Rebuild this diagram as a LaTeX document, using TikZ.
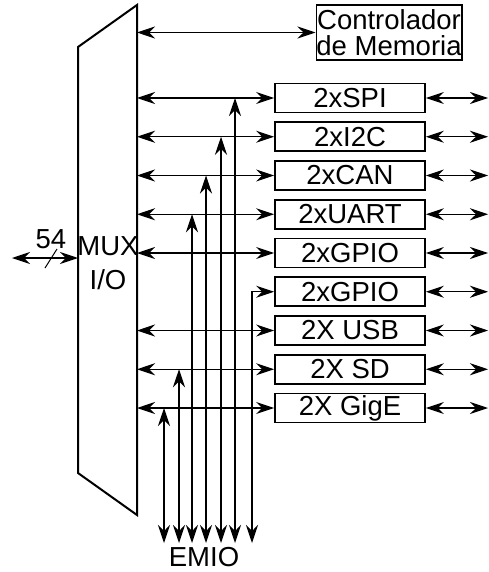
\documentclass[tikz,border=0pt]{standalone}
\usepackage{fontspec}
\setmainfont{Liberation Sans}
\usetikzlibrary{arrows.meta, positioning, calc}
\tikzset{
  blk/.style={draw, line width=1.8pt, minimum width=150pt, minimum height=29pt,
              inner sep=0pt},
  sig/.style={line width=1.1pt, <->}
}

\begin{document}
\begin{tikzpicture}[x=1pt, y=-1pt, font=\fontsize{27.5}{24}\selectfont,
                    >={Stealth[length=18pt, width=12pt, inset=6pt]}]
  \useasboundingbox (0,0) rectangle (489,572);
  \draw[line width=2pt] (78,47) -- (137,5) -- (137,515) -- (78,473) -- cycle;
  \coordinate (muxR) at (137,0);
  \coordinate (farR) at (488,0);
  \node[align=center, font=\fontsize{27.5}{34}\selectfont] (mux) at (108,263) {MUX\\I/O};
  \coordinate (busL) at (12,258);
  \coordinate (muxL) at (78,258);
  \draw[sig] (busL) -- (muxL);
  \draw[line width=1pt] (45,268) -- (57,249);
  \node (bus) at (51,239) {54};
  \node[blk, minimum width=144pt, minimum height=55pt, align=center,
        font=\fontsize{27.5}{26.5}\selectfont] (mem)
    at (389,32.5) {Controlador\\de Memoria};
  \draw[sig] (muxR |- mem) -- (mem.west);
  \foreach \lab [count=\row from 0] in
    {2xSPI, 2xI2C, 2xCAN, 2xUART, 2xGPIO, 2xGPIO, 2X USB, 2X SD, 2X GigE}{%
    \node[blk] (b\row) at (350,98+38.75*\row) {\lab};
    \draw[sig] (b\row.east) -- (farR |- b\row);}
  \foreach \row in {0,...,4,6,7,8}
    \draw[sig] (muxR |- b\row) -- (b\row.west);
  \node (emio) at (204,557) {EMIO};
  \foreach \x/\row in {164/8, 179/7, 192/3, 206/2, 221/1, 235/0}{%
    \coordinate (e\row) at (\x,543);
    \draw[sig] (e\row) -- (e\row |- b\row);}
  \coordinate (e5) at (252,543);
  \draw[sig] (e5) |- (b5.west);
\end{tikzpicture}
\end{document}
